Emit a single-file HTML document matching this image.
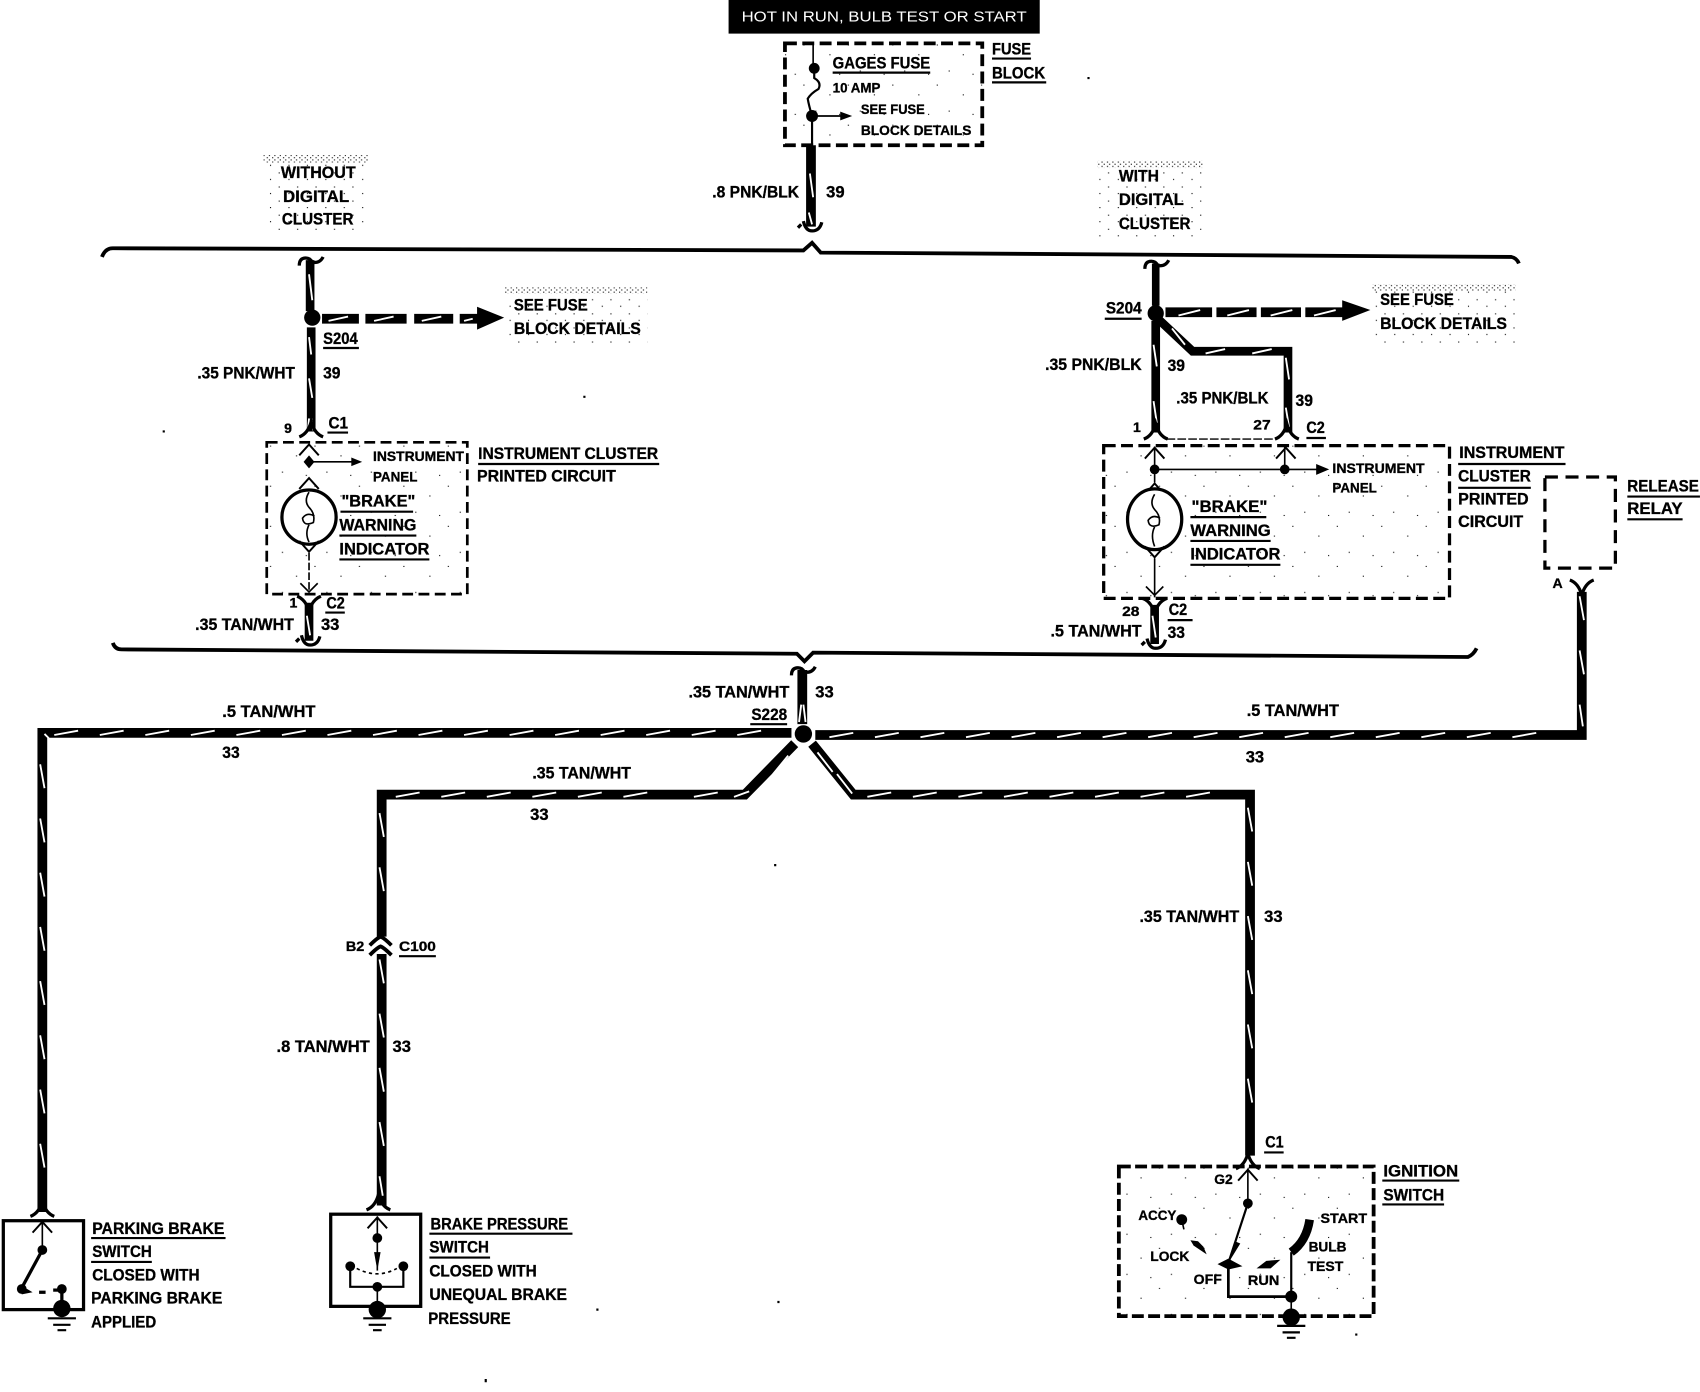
<!DOCTYPE html>
<html><head><meta charset="utf-8"><title>Brake warning wiring diagram</title>
<style>
html,body{margin:0;padding:0;background:#fff}
svg{display:block}
text{font-family:"Liberation Sans",sans-serif;font-weight:bold;font-size:15px;fill:#000;stroke:#000;stroke-width:.3;dominant-baseline:central;transform:translateY(.7px)}
.s{font-size:13px}
.u{stroke:#000;stroke-width:2;fill:none}
.w{stroke:#000;stroke-width:9;fill:none;stroke-linejoin:miter}
.k{stroke:#fff;stroke-width:1.7;fill:none}
.d{stroke:#000;stroke-width:3.5;fill:none;stroke-dasharray:11 5}
.n{stroke:#000;stroke-width:1.5;fill:none}
.m{stroke:#000;stroke-width:3;fill:none}
</style></head><body>
<svg xmlns="http://www.w3.org/2000/svg" width="1700" height="1392" viewBox="0 0 1568 1284">
<defs>
<pattern id="st" width="5" height="4" patternUnits="userSpaceOnUse"><rect x="1" y="1" width="1" height="1" fill="#000"/><rect x="3" y="3" width="1" height="1" fill="#000"/></pattern>
<pattern id="ss" width="17" height="13" patternUnits="userSpaceOnUse"><rect x="2" y="3" width="1" height="1" fill="#000"/><rect x="11" y="9" width="1" height="1" fill="#000"/></pattern>
<pattern id="sp" width="41" height="37" patternUnits="userSpaceOnUse"><rect x="3" y="4" width="1" height="1" fill="#000"/><rect x="27" y="13" width="1" height="1" fill="#000"/><rect x="14" y="28" width="1" height="1" fill="#000"/><rect x="36" y="31" width="1" height="1" fill="#000"/></pattern>
<g id="fu"><path d="M-11,6 Q-3,3 0,-8 Q3,3 11,6" stroke="#000" stroke-width="3" fill="none"/></g>
<g id="fd"><path d="M-11,-6 Q-3,-3 0,8 Q3,-3 11,-6" stroke="#000" stroke-width="3" fill="none"/></g>
<g id="cu"><path d="M-9,6 L0,-4 L9,6" stroke="#000" stroke-width="1.8" fill="none"/></g>
<g id="cd"><path d="M-9,-6 L0,4 L9,-6" stroke="#000" stroke-width="1.8" fill="none"/></g>
<g id="hb"><path d="M-12,1 L-9,-2 M-7,-5 Q-5,4 1,4 Q8,4 10,-4" stroke="#000" stroke-width="3" fill="none"/></g>
<g id="ht"><path d="M-11,7 Q-11,0 -5,0 Q-1,0 1,4 Q8,5 11,-1" stroke="#000" stroke-width="3" fill="none"/></g>
<g id="gnd"><path d="M-13,8 H13 M-8,14 H8 M-4,19 H4" stroke="#000" stroke-width="2"/></g>
</defs>
<rect width="1568" height="1284" fill="#fff"/>

<!-- top banner -->
<rect x="672" y="0" width="287" height="31" fill="#000"/>
<text x="684" y="15" textLength="263" lengthAdjust="spacingAndGlyphs" style="fill:#fff;stroke:none;font-weight:normal;font-size:14px">HOT IN RUN, BULB TEST OR START</text>

<!-- stipple blocks -->
<rect x="724" y="40" width="182" height="94" fill="url(#sp)"/>
<rect x="243" y="143" width="97" height="7" fill="url(#st)"/><rect x="243" y="150" width="97" height="65" fill="url(#ss)"/>
<rect x="1012" y="148" width="98" height="7" fill="url(#st)"/><rect x="1012" y="155" width="98" height="67" fill="url(#ss)"/>
<rect x="465" y="265" width="132" height="6" fill="url(#st)"/><rect x="465" y="271" width="132" height="49" fill="url(#ss)"/>
<rect x="1265" y="262" width="133" height="6" fill="url(#st)"/><rect x="1265" y="268" width="133" height="50" fill="url(#ss)"/>
<rect x="246" y="408" width="185" height="140" fill="url(#sp)"/>
<rect x="1018" y="411" width="319" height="141" fill="url(#sp)"/>
<rect x="1032" y="1076" width="235" height="138" fill="url(#sp)"/>
<!-- specks -->
<path d="M150,397h2v2h-2z M538,365h2v2h-2z M714,797h2v2h-2z M717,1200h2v2h-2z M550,1207h2v2h-2z M447,1272h2v3h-2z M1003,71h2v2h-2z M1250,1230h2v2h-2z" fill="#000"/>

<!-- fuse block -->
<rect x="724" y="40" width="182" height="94" class="d"/>
<line x1="750" y1="40" x2="750" y2="63" class="n"/>
<circle cx="751" cy="63" r="5"/>
<path d="M751,63 V72 Q758,76 755,82 Q748,86 745,91 Q746,97 749,107 V134" class="m" style="stroke-width:2"/>
<circle cx="749" cy="107" r="5.5"/>
<line x1="749" y1="107" x2="776" y2="107" class="n"/><path d="M775,103 L786,107 L775,111Z"/>
<text x="768" y="58" textLength="90" lengthAdjust="spacingAndGlyphs">GAGES FUSE</text><line x1="768" x2="858" y1="67" y2="67" class="u"/>
<text x="768" y="80" textLength="44" lengthAdjust="spacingAndGlyphs" class="s">10 AMP</text>
<text x="794" y="100" textLength="59" lengthAdjust="spacingAndGlyphs" class="s">SEE FUSE</text>
<text x="794" y="119" textLength="102" lengthAdjust="spacingAndGlyphs" class="s">BLOCK DETAILS</text>
<text x="915" y="45" textLength="36" lengthAdjust="spacingAndGlyphs">FUSE</text><line x1="915" x2="951" y1="54" y2="54" class="u"/>
<text x="915" y="67" textLength="49" lengthAdjust="spacingAndGlyphs">BLOCK</text><line x1="915" x2="965" y1="76" y2="76" class="u"/>
<path d="M748,134 V209" class="w"/><path d="M747,160 l3,22 M746,196 l3,11" class="k"/>
<use href="#hb" x="748" y="209"/>
<text x="657" y="177" textLength="80" lengthAdjust="spacingAndGlyphs">.8 PNK/BLK</text>
<text x="762" y="177" textLength="17" lengthAdjust="spacingAndGlyphs">39</text>

<!-- brackets -->
<path d="M94,237 Q97,229 104,229 L741,231 L749,224 L757,233 L1394,237 Q1399,238 1401,243" stroke="#000" stroke-width="3.5" fill="none"/>
<path d="M104,593 Q106,599 112,599 L735,603 L742,610 L750,602 L1354,606 Q1359,604 1362,598" stroke="#000" stroke-width="3.5" fill="none"/>

<!-- left cluster -->
<text x="259" y="159" textLength="69" lengthAdjust="spacingAndGlyphs">WITHOUT</text>
<text x="261" y="181" textLength="61" lengthAdjust="spacingAndGlyphs">DIGITAL</text>
<text x="260" y="202" textLength="66" lengthAdjust="spacingAndGlyphs">CLUSTER</text>
<use href="#ht" x="287" y="238"/>
<path d="M286,240 V287" class="w" style="stroke-width:8"/><path d="M285,253 l3,24" class="k"/>
<circle cx="288" cy="293" r="7.5"/>
<path d="M287,302 V398" class="w" style="stroke-width:8"/><path d="M285,311 l2,16 M285,349 l3,18 M285,386 l-1,11 M287,386 l2,11" class="k"/>
<use href="#fu" x="287" y="397"/>
<path d="M297,294 H331 M337,294 H375 M382,294 H418 M424,294 H442" stroke="#000" stroke-width="9" fill="none"/>
<path d="M303,296 l18,-4 M345,296 l18,-4 M389,296 l18,-4 M428,296 l8,-2" class="k"/>
<path d="M440,283 L465,293 L440,304Z"/>
<text x="474" y="281" textLength="68" lengthAdjust="spacingAndGlyphs">SEE FUSE</text>
<text x="474" y="303" textLength="117" lengthAdjust="spacingAndGlyphs">BLOCK DETAILS</text>
<text x="298" y="312" textLength="32" lengthAdjust="spacingAndGlyphs">S204</text><line x1="298" x2="331" y1="321" y2="321" class="u"/>
<text x="182" y="344" textLength="90" lengthAdjust="spacingAndGlyphs">.35 PNK/WHT</text>
<text x="298" y="344" textLength="16" lengthAdjust="spacingAndGlyphs">39</text>
<text x="262" y="394" class="s">9</text>
<text x="303" y="390" textLength="18" lengthAdjust="spacingAndGlyphs">C1</text><line x1="302" x2="321" y1="399" y2="399" class="u"/>
<rect x="246" y="408" width="185" height="140" class="d" style="stroke-width:2.5;stroke-dasharray:10 5"/>
<use href="#cu" x="285" y="414"/>
<path d="M285,420 L290,426 L285,432 L280,426Z"/>
<line x1="285" y1="426" x2="325" y2="426" class="n"/><path d="M324,422 L334,426 L324,430Z"/>
<text x="344" y="420" textLength="84" lengthAdjust="spacingAndGlyphs" class="s">INSTRUMENT</text>
<text x="344" y="439" textLength="41" lengthAdjust="spacingAndGlyphs" class="s">PANEL</text>
<use href="#cu" x="285" y="445"/>
<circle cx="285" cy="477" r="25" stroke="#000" stroke-width="3" fill="#fff"/>
<path d="M285,454 Q280,462 285,468 Q291,474 289,482 Q280,486 279,478 Q283,472 290,476 M285,484 Q281,492 285,500" class="n"/>
<use href="#cd" x="285" y="505"/>
<line x1="285" y1="510" x2="285" y2="546" class="n" stroke-dasharray="7 2"/>
<path d="M277,538 L285,546 L293,538" class="n"/>
<text x="315" y="462" textLength="68" lengthAdjust="spacingAndGlyphs">"BRAKE"</text><line x1="314" x2="381" y1="472" y2="472" class="u"/>
<text x="313" y="484" textLength="71" lengthAdjust="spacingAndGlyphs">WARNING</text><line x1="313" x2="384" y1="494" y2="494" class="u"/>
<text x="313" y="506" textLength="83" lengthAdjust="spacingAndGlyphs">INDICATOR</text><line x1="313" x2="396" y1="516" y2="516" class="u"/>
<text x="441" y="418" textLength="166" lengthAdjust="spacingAndGlyphs">INSTRUMENT CLUSTER</text><line x1="441" x2="608" y1="428" y2="428" class="u"/>
<text x="440" y="439" textLength="128" lengthAdjust="spacingAndGlyphs">PRINTED CIRCUIT</text>
<text x="267" y="555" class="s">1</text>
<text x="301" y="556" textLength="17" lengthAdjust="spacingAndGlyphs">C2</text><line x1="300" x2="318" y1="565" y2="565" class="u"/>
<text x="180" y="576" textLength="91" lengthAdjust="spacingAndGlyphs">.35 TAN/WHT</text>
<text x="296" y="576" textLength="17" lengthAdjust="spacingAndGlyphs">33</text>
<use href="#fd" x="285" y="556"/>
<path d="M285,556 V591" class="w" style="stroke-width:8"/><path d="M283,568 l3,18" class="k"/>
<use href="#hb" x="285" y="591"/>

<!-- right cluster -->
<text x="1032" y="162" textLength="37" lengthAdjust="spacingAndGlyphs">WITH</text>
<text x="1032" y="184" textLength="60" lengthAdjust="spacingAndGlyphs">DIGITAL</text>
<text x="1032" y="206" textLength="66" lengthAdjust="spacingAndGlyphs">CLUSTER</text>
<use href="#ht" x="1067" y="241"/>
<path d="M1066,243 V282" class="w" style="stroke-width:7"/>
<circle cx="1066" cy="289" r="7.5"/>
<path d="M1066,296 V399" class="w" style="stroke-width:8"/><path d="M1064,318 l3,20 M1064,370 l3,20" class="k"/>
<path d="M1068,294 L1100,324 H1188 V399" class="w" style="stroke-width:8"/><path d="M1081,303 l12,15 M1112,326 l18,-4 M1155,326 l18,-4 M1186,330 l3,20 M1186,376 l3,18" class="k"/>
<use href="#fu" x="1066" y="399"/><use href="#fu" x="1187" y="399"/>
<path d="M1075,288 H1118 M1122,288 H1159 M1163,288 H1200 M1204,288 H1240" stroke="#000" stroke-width="9" fill="none"/>
<path d="M1087,291 l20,-5 M1132,291 l20,-5 M1172,291 l20,-5 M1212,291 l20,-5" class="k"/>
<path d="M1238,277 L1264,286 L1238,296Z"/>
<text x="1273" y="276" textLength="68" lengthAdjust="spacingAndGlyphs">SEE FUSE</text>
<text x="1273" y="298" textLength="117" lengthAdjust="spacingAndGlyphs">BLOCK DETAILS</text>
<text x="1020" y="284" textLength="33" lengthAdjust="spacingAndGlyphs">S204</text><line x1="1019" x2="1053" y1="294" y2="294" class="u"/>
<text x="964" y="336" textLength="89" lengthAdjust="spacingAndGlyphs">.35 PNK/BLK</text>
<text x="1077" y="337" textLength="16" lengthAdjust="spacingAndGlyphs">39</text>
<text x="1085" y="367" textLength="85" lengthAdjust="spacingAndGlyphs">.35 PNK/BLK</text>
<text x="1195" y="369" textLength="16" lengthAdjust="spacingAndGlyphs">39</text>
<text x="1045" y="393" class="s">1</text>
<text x="1156" y="391" textLength="16" lengthAdjust="spacingAndGlyphs" class="s">27</text>
<text x="1205" y="394" textLength="17" lengthAdjust="spacingAndGlyphs">C2</text><line x1="1205" x2="1223" y1="404" y2="404" class="u"/>
<line x1="1076" y1="405" x2="1176" y2="405" stroke="#000" stroke-width="1.2" stroke-dasharray="8 2"/>
<rect x="1018" y="411" width="319" height="141" class="d" style="stroke-width:3;stroke-dasharray:11 5"/>
<use href="#cu" x="1065" y="417"/><use href="#cu" x="1186" y="417"/>
<line x1="1065" y1="412" x2="1065" y2="445" class="n"/><line x1="1185" y1="412" x2="1185" y2="433" class="n"/>
<circle cx="1065" cy="433" r="4.5"/><circle cx="1185" cy="433" r="4.5"/>
<line x1="1065" y1="433" x2="1217" y2="433" class="n"/><path d="M1214,428 L1226,433 L1214,438Z"/>
<text x="1229" y="431" textLength="85" lengthAdjust="spacingAndGlyphs" class="s">INSTRUMENT</text>
<text x="1229" y="449" textLength="41" lengthAdjust="spacingAndGlyphs" class="s">PANEL</text>
<use href="#cu" x="1065" y="450"/>
<ellipse cx="1065" cy="479" rx="25" ry="28" stroke="#000" stroke-width="3" fill="#fff"/>
<path d="M1065,456 Q1060,464 1065,470 Q1071,476 1069,484 Q1060,488 1059,480 Q1063,474 1070,478 M1065,486 Q1061,494 1065,504" class="n"/>
<use href="#cd" x="1065" y="510"/>
<line x1="1065" y1="515" x2="1065" y2="551" class="n"/>
<path d="M1057,541 L1065,549 L1073,541" class="n"/>
<text x="1099" y="467" textLength="70" lengthAdjust="spacingAndGlyphs">"BRAKE"</text><line x1="1098" x2="1168" y1="477" y2="477" class="u"/>
<text x="1098" y="489" textLength="74" lengthAdjust="spacingAndGlyphs">WARNING</text><line x1="1098" x2="1172" y1="499" y2="499" class="u"/>
<text x="1098" y="511" textLength="83" lengthAdjust="spacingAndGlyphs">INDICATOR</text><line x1="1098" x2="1181" y1="521" y2="521" class="u"/>
<text x="1346" y="417" textLength="97" lengthAdjust="spacingAndGlyphs">INSTRUMENT</text><line x1="1345" x2="1444" y1="428" y2="428" class="u"/>
<text x="1345" y="439" textLength="67" lengthAdjust="spacingAndGlyphs">CLUSTER</text><line x1="1345" x2="1412" y1="450" y2="450" class="u"/>
<text x="1345" y="460" textLength="65" lengthAdjust="spacingAndGlyphs">PRINTED</text>
<text x="1345" y="481" textLength="60" lengthAdjust="spacingAndGlyphs">CIRCUIT</text>
<text x="1035" y="563" textLength="16" lengthAdjust="spacingAndGlyphs" class="s">28</text>
<text x="1078" y="562" textLength="17" lengthAdjust="spacingAndGlyphs">C2</text><line x1="1077" x2="1100" y1="572" y2="572" class="u"/>
<text x="969" y="582" textLength="84" lengthAdjust="spacingAndGlyphs">.5 TAN/WHT</text>
<text x="1077" y="583" textLength="16" lengthAdjust="spacingAndGlyphs">33</text>
<use href="#fd" x="1065" y="558"/>
<path d="M1065,558 V594" class="w" style="stroke-width:8"/><path d="M1063,568 l3,20" class="k"/>
<use href="#hb" x="1065" y="594"/>

<!-- relay -->
<rect x="1425" y="440" width="65" height="84" class="d" style="stroke-width:3;stroke-dasharray:12 7"/>
<text x="1501" y="448" textLength="66" lengthAdjust="spacingAndGlyphs">RELEASE</text><line x1="1501" x2="1568" y1="458" y2="458" class="u"/>
<text x="1501" y="469" textLength="51" lengthAdjust="spacingAndGlyphs">RELAY</text><line x1="1501" x2="1552" y1="479" y2="479" class="u"/>
<text x="1432" y="537" class="s">A</text>
<use href="#fd" x="1459" y="541"/>

<!-- main harness -->
<use href="#ht" x="741" y="616"/>
<path d="M740,618 V668" class="w"/><path d="M739,650 l-2,16 M741,650 l2,16" class="k"/>
<circle cx="741" cy="677" r="8"/>
<text x="635" y="638" textLength="93" lengthAdjust="spacingAndGlyphs">.35 TAN/WHT</text>
<text x="752" y="638" textLength="17" lengthAdjust="spacingAndGlyphs">33</text>
<text x="693" y="659" textLength="33" lengthAdjust="spacingAndGlyphs">S228</text><line x1="692" x2="726" y1="668" y2="668" class="u"/>

<path d="M730,676 H39 V1118" class="w"/>
<path d="M45,681 l-4,-4 M50,678 l22,-4 m20,4 l22,-4 m20,4 l22,-4 m20,4 l22,-4 m20,4 l22,-4 m20,4 l22,-4 m20,4 l22,-4 m20,4 l22,-4 m20,4 l22,-4 m20,4 l22,-4 m20,4 l22,-4 m20,4 l22,-4 m20,4 l22,-4 m20,4 l22,-4 m20,4 l22,-4 m20,4 l22,-4" class="k"/>
<path d="M37,705 l4,22 m-4,28 l4,22 m-4,28 l4,22 m-4,28 l4,22 m-4,28 l4,22 m-4,28 l4,22 m-4,28 l4,22 m-4,28 l4,22" class="k"/>
<path d="M752,678 H1459 V546" class="w"/>
<path d="M765,680 l22,-4 m20,4 l22,-4 m20,4 l22,-4 m20,4 l22,-4 m20,4 l22,-4 m20,4 l22,-4 m20,4 l22,-4 m20,4 l22,-4 m20,4 l22,-4 m20,4 l22,-4 m20,4 l22,-4 m20,4 l22,-4 m20,4 l22,-4 m20,4 l22,-4 m20,4 l22,-4 m20,4 l22,-4" class="k"/>
<path d="M1457,550 l4,22 m-4,28 l4,22 m-4,28 l3,20" class="k"/>
<path d="M733,686 L687,733 H352 V864" class="w"/>
<path d="M352,880 V1112" class="w"/>
<path d="M727,697 l-14,17 M691,730 l-14,5 M640,735 l22,-4 m20,4 l-0,0 M365,735 l22,-4 m20,4 l22,-4 m20,4 l22,-4 m20,4 l22,-4 m20,4 l22,-4 m20,4 l22,-4" class="k"/>
<path d="M350,750 l4,22 m-4,28 l4,22 m-4,-2 l0,0 M350,885 l4,22 m-4,28 l4,22 m-4,28 l4,22 m-4,28 l4,22 m-4,28 l3,18" class="k"/>
<path d="M749,686 L787,733 H1153 V1066" class="w"/>
<path d="M754,694 l14,18 M772,714 l14,18 M800,735 l22,-4 m20,4 l22,-4 m20,4 l22,-4 m20,4 l22,-4 m20,4 l22,-4 m20,4 l22,-4 m20,4 l22,-4 m20,4 l22,-4" class="k"/>
<path d="M1151,745 l4,22 m-4,28 l4,22 m-4,28 l4,22 m-4,28 l4,22 m-4,28 l4,22 m-4,28 l4,22" class="k"/>

<text x="205" y="656" textLength="86" lengthAdjust="spacingAndGlyphs">.5 TAN/WHT</text>
<text x="205" y="694" textLength="16" lengthAdjust="spacingAndGlyphs">33</text>
<text x="1150" y="655" textLength="85" lengthAdjust="spacingAndGlyphs">.5 TAN/WHT</text>
<text x="1149" y="698" textLength="17" lengthAdjust="spacingAndGlyphs">33</text>
<text x="491" y="713" textLength="91" lengthAdjust="spacingAndGlyphs">.35 TAN/WHT</text>
<text x="489" y="751" textLength="17" lengthAdjust="spacingAndGlyphs">33</text>
<text x="1051" y="845" textLength="92" lengthAdjust="spacingAndGlyphs">.35 TAN/WHT</text>
<text x="1166" y="845" textLength="17" lengthAdjust="spacingAndGlyphs">33</text>
<!-- C100 -->
<path d="M341,872 Q348,865 351,864 Q354,865 361,872" stroke="#000" stroke-width="3.5" fill="none"/>
<path d="M341,881 Q348,874 351,873 Q354,874 361,881" stroke="#000" stroke-width="3.5" fill="none"/>
<text x="319" y="872" textLength="17" lengthAdjust="spacingAndGlyphs" class="s">B2</text>
<text x="368" y="872" textLength="34" lengthAdjust="spacingAndGlyphs" class="s">C100</text><line x1="368" x2="402" y1="882" y2="882" class="u"/>
<text x="255" y="965" textLength="86" lengthAdjust="spacingAndGlyphs">.8 TAN/WHT</text>
<text x="362" y="965" textLength="17" lengthAdjust="spacingAndGlyphs">33</text>

<!-- parking brake switch -->
<use href="#fu" x="39" y="1116"/>
<rect x="3" y="1126" width="74" height="82" stroke="#000" stroke-width="3" fill="none"/>
<use href="#cu" x="39" y="1131"/><line x1="39" y1="1127" x2="39" y2="1153" class="n"/>
<circle cx="39" cy="1153" r="4.5"/>
<path d="M39,1153 L20,1188" class="m"/>
<circle cx="20" cy="1189" r="4.5"/><path d="M20,1186 L30,1192 L20,1194Z"/>
<circle cx="57" cy="1189" r="4.5"/><line x1="36" y1="1192" x2="42" y2="1192" class="m"/><line x1="49" y1="1190" x2="54" y2="1190" class="m"/>
<line x1="57" y1="1190" x2="57" y2="1206" class="m"/>
<circle cx="57" cy="1207" r="8"/>
<use href="#gnd" x="57" y="1208"/>
<text x="85" y="1133" textLength="122" lengthAdjust="spacingAndGlyphs">PARKING BRAKE</text><line x1="84" x2="208" y1="1142" y2="1142" class="u"/>
<text x="85" y="1154" textLength="55" lengthAdjust="spacingAndGlyphs">SWITCH</text><line x1="84" x2="140" y1="1164" y2="1164" class="u"/>
<text x="85" y="1176" textLength="99" lengthAdjust="spacingAndGlyphs">CLOSED WITH</text>
<text x="84" y="1197" textLength="121" lengthAdjust="spacingAndGlyphs">PARKING BRAKE</text>
<text x="84" y="1219" textLength="60" lengthAdjust="spacingAndGlyphs">APPLIED</text>

<!-- brake pressure switch -->
<use href="#fu" x="349" y="1110"/>
<rect x="305" y="1120" width="83" height="85" stroke="#000" stroke-width="3" fill="none"/>
<use href="#cu" x="348" y="1127"/><line x1="348" y1="1122" x2="348" y2="1172" class="n"/>
<circle cx="348" cy="1142" r="4.5"/><path d="M345,1155 L351,1155 L348,1172Z"/>
<circle cx="323" cy="1168" r="4.5"/><circle cx="372" cy="1168" r="4.5"/>
<path d="M323,1168 V1187 H372 V1168" class="n" style="stroke-width:2"/>
<path d="M329,1170 Q348,1180 366,1170" class="n" stroke-dasharray="3 3"/>
<circle cx="348" cy="1187" r="4.5"/><line x1="348" y1="1187" x2="348" y2="1205" class="n"/>
<circle cx="348" cy="1208" r="8"/>
<use href="#gnd" x="348" y="1208"/>
<text x="397" y="1129" textLength="127" lengthAdjust="spacingAndGlyphs">BRAKE PRESSURE</text><line x1="396" x2="528" y1="1138" y2="1138" class="u"/>
<text x="396" y="1150" textLength="55" lengthAdjust="spacingAndGlyphs">SWITCH</text><line x1="396" x2="452" y1="1160" y2="1160" class="u"/>
<text x="396" y="1172" textLength="99" lengthAdjust="spacingAndGlyphs">CLOSED WITH</text>
<text x="396" y="1194" textLength="127" lengthAdjust="spacingAndGlyphs">UNEQUAL BRAKE</text>
<text x="395" y="1216" textLength="76" lengthAdjust="spacingAndGlyphs">PRESSURE</text>

<!-- ignition switch -->
<use href="#fu" x="1151" y="1072"/>
<rect x="1032" y="1076" width="235" height="138" class="d" style="stroke-width:3.5;stroke-dasharray:11 4"/>
<use href="#cu" x="1151" y="1083"/>
<line x1="1151" y1="1078" x2="1151" y2="1110" class="n"/>
<circle cx="1151" cy="1110" r="4.5"/>
<path d="M1151,1110 L1133,1165" class="n" style="stroke-width:2"/>
<path d="M1139,1145 L1144,1147 L1133,1165Z"/>
<path d="M1123,1166 L1133,1161 L1146,1168 L1133,1171Z"/>
<path d="M1133,1165 V1196 H1191" class="m" style="stroke-width:2.5"/>
<path d="M1208,1125 Q1205,1145 1191,1155" stroke="#000" stroke-width="8" fill="none"/>
<line x1="1191" y1="1155" x2="1191" y2="1196" class="n" style="stroke-width:2"/>
<circle cx="1191" cy="1196" r="5.5"/>
<circle cx="1090" cy="1125" r="5"/><line x1="1090" y1="1125" x2="1092" y2="1134" class="n"/>
<path d="M1098,1144 L1105,1145 L1110,1150 L1113,1157 L1101,1149Z"/>
<path d="M1159,1170 L1168,1163 L1181,1162 L1172,1170Z"/>
<line x1="1191" y1="1196" x2="1191" y2="1208" class="n"/>
<circle cx="1191" cy="1215" r="8"/>
<use href="#gnd" x="1191" y="1215"/>
<text x="1120" y="1087" textLength="17" lengthAdjust="spacingAndGlyphs" class="s">G2</text>
<text x="1167" y="1053" textLength="17" lengthAdjust="spacingAndGlyphs">C1</text><line x1="1166" x2="1184" y1="1063" y2="1063" class="u"/>
<text x="1050" y="1120" textLength="35" lengthAdjust="spacingAndGlyphs" class="s">ACCY</text>
<text x="1061" y="1158" textLength="36" lengthAdjust="spacingAndGlyphs" class="s">LOCK</text>
<text x="1101" y="1179" textLength="26" lengthAdjust="spacingAndGlyphs" class="s">OFF</text>
<text x="1151" y="1180" textLength="29" lengthAdjust="spacingAndGlyphs" class="s">RUN</text>
<text x="1218" y="1123" textLength="43" lengthAdjust="spacingAndGlyphs" class="s">START</text>
<text x="1207" y="1149" textLength="35" lengthAdjust="spacingAndGlyphs" class="s">BULB</text>
<text x="1206" y="1167" textLength="33" lengthAdjust="spacingAndGlyphs" class="s">TEST</text>
<text x="1276" y="1080" textLength="69" lengthAdjust="spacingAndGlyphs">IGNITION</text><line x1="1275" x2="1346" y1="1089" y2="1089" class="u"/>
<text x="1276" y="1102" textLength="56" lengthAdjust="spacingAndGlyphs">SWITCH</text><line x1="1275" x2="1332" y1="1111" y2="1111" class="u"/>
</svg>
</body></html>
